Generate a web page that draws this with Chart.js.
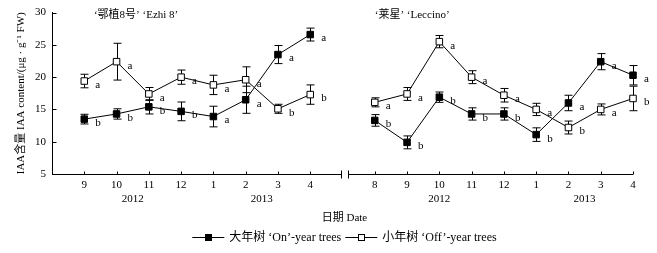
<!DOCTYPE html>
<html>
<head>
<meta charset="utf-8">
<script src="https://cdn.jsdelivr.net/npm/chart.js@4.4.0/dist/chart.umd.min.js"></script>
<style>
  html, body { margin: 0; padding: 0; background: #fff; }
  #wrap { width: 657px; height: 253px; }
</style>
</head>
<body>
<div id="wrap"><canvas id="iaaChart" width="657" height="253"></canvas></div>
<script>
// month labels of the two panels, x positions are category slots
const ezhiMonths = ['9', '10', '11', '12', '1', '2', '3', '4'];
const leccinoMonths = ['8', '9', '10', '11', '12', '1', '2', '3', '4'];
const ezhiSlots = [0, 1, 2, 3, 4, 5, 6, 7];
const leccinoSlots = [9, 10, 11, 12, 13, 14, 15, 16, 17];
const yearLabels = ['2012', '2013', '2012', '2013'];
const yearCenters = [1.5, 5.5, 11, 15.5];

// 'Ezhi 8'
const ezhiOn = [13.5, 14.3, 15.4, 14.7, 13.9, 16.5, 23.5, 26.6];
const ezhiOnErr = [0.75, 0.8, 1.1, 1.45, 1.6, 2.1, 1.4, 1.0];
const ezhiOnSig = ['b', 'b', 'b', 'b', 'a', 'a', 'a', 'a'];
const ezhiOff = [19.4, 22.4, 17.4, 20.0, 18.8, 19.6, 15.1, 17.3];
const ezhiOffErr = [1.05, 2.85, 1.0, 1.1, 1.5, 2.0, 0.7, 1.5];
const ezhiOffSig = ['a', 'a', 'a', 'a', 'a', 'a', 'b', 'b'];

// 'Leccino'
const leccinoOn = [13.3, 9.9, 16.9, 14.3, 14.3, 11.1, 16.0, 22.4, 20.3];
const leccinoOnErr = [0.9, 1.0, 0.8, 0.95, 0.95, 1.05, 1.2, 1.25, 1.5];
const leccinoOnSig = ['b', 'b', 'b', 'b', 'b', 'b', 'a', 'a', 'a'];
const leccinoOff = [16.1, 17.4, 25.5, 20.0, 17.2, 15.0, 12.2, 15.0, 16.7];
const leccinoOffErr = [0.7, 1.0, 0.95, 1.0, 1.05, 0.95, 1.0, 0.85, 1.9];
const leccinoOffSig = ['a', 'a', 'a', 'a', 'a', 'a', 'b', 'a', 'b'];

const yTicks = [5, 10, 15, 20, 25, 30];

const SERIF = '"Liberation Serif", "Times New Roman", "Noto Sans CJK SC", serif';

// join both panels, null in slot 8 breaks the line
const toPoints = (a, b) => [
  ...ezhiSlots.map((x, i) => ({ x: x, y: a[i] })),
  { x: 8, y: null },
  ...leccinoSlots.map((x, i) => ({ x: x, y: b[i] }))
];
const onErr = [...ezhiOnErr, null, ...leccinoOnErr];
const offErr = [...ezhiOffErr, null, ...leccinoOffErr];
const onSig = [...ezhiOnSig, null, ...leccinoOnSig];
const offSig = [...ezhiOffSig, null, ...leccinoOffSig];

const figurePlugin = {
  id: 'figure',
  beforeDatasetsDraw(chart) {
    const ctx = chart.ctx;
    const xs = chart.scales.x, ys = chart.scales.y;
    ctx.save();
    ctx.strokeStyle = '#000';
    ctx.lineWidth = 1;
    chart.data.datasets.forEach(ds => {
      ds.data.forEach((p, i) => {
        const e = ds.errors[i];
        if (p.y == null || e == null) return;
        const px = Math.round(xs.getPixelForValue(p.x)) + 0.5;
        const top = ys.getPixelForValue(p.y + e);
        const bot = ys.getPixelForValue(p.y - e);
        ctx.beginPath();
        ctx.moveTo(px, top); ctx.lineTo(px, bot);
        ctx.moveTo(px - 4, top); ctx.lineTo(px + 4, top);
        ctx.moveTo(px - 4, bot); ctx.lineTo(px + 4, bot);
        ctx.stroke();
      });
    });
    ctx.restore();
  },
  afterDraw(chart) {
    const ctx = chart.ctx;
    const xs = chart.scales.x, ys = chart.scales.y;
    const area = chart.chartArea;
    const base = Math.round(area.bottom) + 0.5;
    ctx.save();
    ctx.strokeStyle = '#000';
    ctx.fillStyle = '#000';
    ctx.lineWidth = 1;

    // y ticks pointing inward
    const left = Math.round(area.left) + 0.5;
    ctx.beginPath();
    yTicks.forEach(v => {
      const py = Math.round(ys.getPixelForValue(v)) + 0.5;
      ctx.moveTo(left, py); ctx.lineTo(left + 4, py);
    });
    ctx.stroke();

    // x axis with a break between the panels
    const b1 = Math.round(xs.getPixelForValue(7.95)) + 0.5;
    const b2 = Math.round(xs.getPixelForValue(8.17)) + 0.5;
    ctx.beginPath();
    ctx.moveTo(area.left, base); ctx.lineTo(b1, base);
    ctx.moveTo(b1, base - 4); ctx.lineTo(b1, base + 4);
    ctx.moveTo(b2, base - 4); ctx.lineTo(b2, base + 4);
    ctx.moveTo(b2, base); ctx.lineTo(area.right, base);
    [...ezhiSlots, ...leccinoSlots].forEach(s => {
      const px = Math.round(xs.getPixelForValue(s)) + 0.5;
      ctx.moveTo(px, base); ctx.lineTo(px, base - 3);
    });
    ctx.stroke();

    // month and year labels
    ctx.font = '11px ' + SERIF;
    ctx.textAlign = 'center';
    ctx.textBaseline = 'middle';
    ezhiMonths.forEach((m, i) => ctx.fillText(m, xs.getPixelForValue(ezhiSlots[i]), base + 11));
    leccinoMonths.forEach((m, i) => ctx.fillText(m, xs.getPixelForValue(leccinoSlots[i]), base + 11));
    yearLabels.forEach((y, i) => ctx.fillText(y, xs.getPixelForValue(yearCenters[i]), base + 25));

    // axis titles
    ctx.fillText('日期 Date', (area.left + area.right) / 2 + 2, 218);
    ctx.save();
    ctx.translate(21, (area.top + area.bottom) / 2);
    ctx.rotate(-Math.PI / 2);
    ctx.fillText('IAA含量 IAA content/(μg · g⁻¹ FW)', 0, 0);
    ctx.restore();

    // panel titles
    ctx.textAlign = 'left';
    ctx.fillText('‘鄂植8号’ ‘Ezhi 8’', xs.getPixelForValue(0.3), 15);
    ctx.fillText('‘莱星’ ‘Leccino’', xs.getPixelForValue(9.0), 15);

    // significance letters
    chart.data.datasets.forEach(ds => {
      ds.data.forEach((p, i) => {
        const s = ds.letters[i];
        if (p.y == null || !s) return;
        ctx.fillText(s, xs.getPixelForValue(p.x) + 11, ys.getPixelForValue(p.y) + 4);
      });
    });

    // legend
    ctx.font = '12px ' + SERIF;
    const t1 = '大年树 ‘On’-year trees';
    const t2 = '小年树 ‘Off’-year trees';
    const seg = 32, gap = 5;
    const total = seg + gap + ctx.measureText(t1).width + 4 + seg + gap + ctx.measureText(t2).width;
    let lx = (area.left + area.right) / 2 + 2 - total / 2;
    const ly = 237;
    const drawKey = (x, filled) => {
      ctx.beginPath();
      ctx.moveTo(x, ly + 0.5); ctx.lineTo(x + seg, ly + 0.5);
      ctx.stroke();
      const cx = Math.round(x + seg / 2);
      if (filled) {
        ctx.fillRect(cx - 3, ly - 3, 7, 7);
      } else {
        ctx.fillStyle = '#fff';
        ctx.fillRect(cx - 3, ly - 3, 7, 7);
        ctx.fillStyle = '#000';
        ctx.strokeRect(cx - 2.5, ly - 2.5, 6, 6);
      }
    };
    drawKey(lx, true);
    lx += seg + gap;
    ctx.fillText(t1, lx, ly + 1);
    lx += ctx.measureText(t1).width + 4;
    drawKey(lx, false);
    lx += seg + gap;
    ctx.fillText(t2, lx, ly + 1);
    ctx.restore();
  }
};

const data = {
  datasets: [
    {
      label: '大年树 ‘On’-year trees',
      data: toPoints(ezhiOn, leccinoOn),
      errors: onErr,
      letters: onSig,
      borderColor: '#000',
      borderWidth: 1,
      pointStyle: 'rect',
      pointRadius: 4.6,
      pointBackgroundColor: '#000',
      pointBorderColor: '#000',
      pointBorderWidth: 1,
      spanGaps: false,
      clip: false
    },
    {
      label: '小年树 ‘Off’-year trees',
      data: toPoints(ezhiOff, leccinoOff),
      errors: offErr,
      letters: offSig,
      borderColor: '#000',
      borderWidth: 1,
      pointStyle: 'rect',
      pointRadius: 4.6,
      pointBackgroundColor: '#fff',
      pointBorderColor: '#000',
      pointBorderWidth: 1,
      spanGaps: false,
      clip: false
    }
  ]
};

const config = {
  type: 'line',
  data: data,
  options: {
    responsive: false,
    animation: false,
    events: [],
    layout: { padding: { top: 11, right: 24, bottom: 79, left: 0 } },
    plugins: { legend: { display: false }, tooltip: { enabled: false } },
    scales: {
      x: { type: 'linear', min: -1, max: 17, display: false },
      y: {
        min: 5,
        max: 30,
        afterFit(scale) { scale.width = 52; },
        afterBuildTicks(scale) { scale.ticks = yTicks.map(v => ({ value: v })); },
        border: { color: '#000', width: 1 },
        grid: { display: false, drawTicks: false },
        ticks: { color: '#000', padding: 6, font: { family: SERIF, size: 11 } }
      }
    }
  },
  plugins: [figurePlugin]
};

const iaaChart = new Chart(document.getElementById('iaaChart'), config);
</script>
</body>
</html>
